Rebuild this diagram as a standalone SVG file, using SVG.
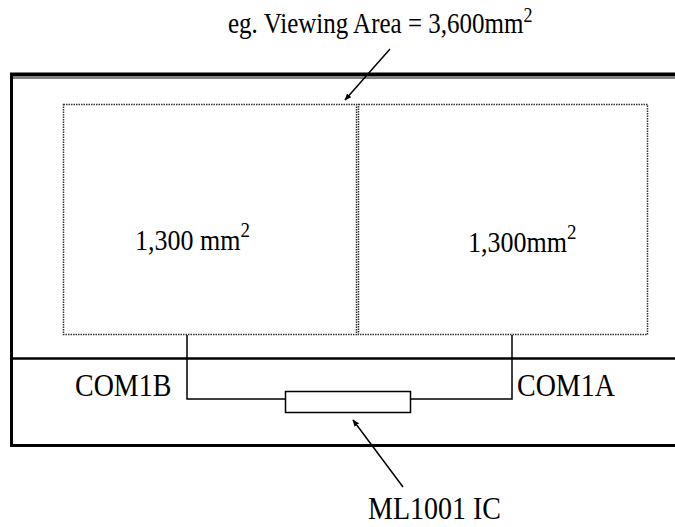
<svg xmlns="http://www.w3.org/2000/svg" width="675" height="527" viewBox="0 0 675 527">
<style>
text{font-family:"Liberation Serif","Times New Roman",serif;fill:#000}
.frame{stroke:#000;fill:none}
.dot{stroke:#333;stroke-width:1.5;stroke-dasharray:1.5 1;fill:none}
.wire{stroke:#000;stroke-width:1.5;fill:none}
.ptr{stroke:#000;stroke-width:1.5;fill:none}
</style>
<defs>
<marker id="ah" viewBox="0 0 10 10" refX="9" refY="5" markerWidth="7" markerHeight="7" orient="auto" markerUnits="userSpaceOnUse">
<path d="M0,1 L10,5 L0,9 z" fill="#000"/>
</marker>
</defs>
<g id="frame">
<line class="frame" x1="10" y1="74.5" x2="675" y2="74.5" stroke-width="4"/>
<line class="frame" x1="10" y1="78" x2="675" y2="78" stroke-width="1"/>
<line class="frame" x1="11.5" y1="73" x2="11.5" y2="447" stroke-width="3"/>
<line class="frame" x1="10" y1="358.5" x2="675" y2="358.5" stroke-width="2.5"/>
<line class="frame" x1="10" y1="445.5" x2="675" y2="445.5" stroke-width="3"/>
</g>
<g id="viewing-area">
<rect class="dot" x="63.5" y="104.5" width="293" height="230"/>
<rect class="dot" x="358.5" y="104.5" width="289" height="230"/>
</g>
<g id="seg-left">
<text transform="translate(135,250) scale(1,1.15)" font-size="26">1,300 mm<tspan font-size="19" dy="-11">2</tspan></text>
</g>
<g id="seg-right">
<text transform="translate(468,252) scale(1,1.15)" font-size="26">1,300mm<tspan font-size="19" dy="-11">2</tspan></text>
</g>
<g id="ic">
<rect x="285.5" y="391.5" width="125" height="21" fill="#fff" stroke="#000" stroke-width="1.5"/>
</g>
<g id="labels">
<text transform="translate(228,33) scale(1,1.15)" font-size="25">eg. Viewing Area = 3,600mm<tspan font-size="18" dy="-10">2</tspan></text>
<text transform="translate(75,396) scale(1,1.15)" font-size="28">COM1B</text>
<text transform="translate(517,396) scale(1,1.15)" font-size="28">COM1A</text>
<text transform="translate(368,519) scale(1,1.15)" font-size="28">ML1001 IC</text>
</g>
<g id="connectors">
<polyline class="wire" points="187,335 187,399 285,399"/>
<polyline class="wire" points="512,335 512,399 411,399"/>
<line class="ptr" x1="390" y1="49" x2="345" y2="100" marker-end="url(#ah)"/>
<line class="ptr" x1="403" y1="487" x2="353" y2="420" marker-end="url(#ah)"/>
</g>
</svg>
